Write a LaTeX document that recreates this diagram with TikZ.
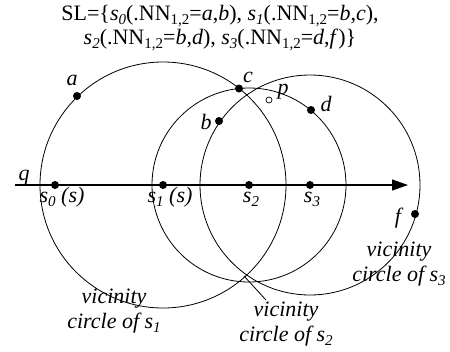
\documentclass[tikz,border=0pt]{standalone}
\usepackage{fontspec}
\setmainfont{Liberation Serif}
\usetikzlibrary{arrows.meta}
\newcommand\lowsb[1]{\raisebox{-0.4ex}{\fontsize{15}{15}\selectfont #1}}
\newcommand\sv[1]{\textit{s}\lowsb{\textit{#1}}}
\begin{document}
\begin{tikzpicture}[x=1pt,y=-1pt,
  lbl/.style={font=\fontsize{22}{25}\selectfont\itshape, inner sep=0pt},
  dotn/.style={circle, fill=black, inner sep=0pt, minimum size=8pt},
  opend/.style={circle, draw=black, line width=0.7pt, inner sep=0pt, minimum size=6pt},
  vcirc/.style={draw=black, line width=0.8pt},
  axis/.style={draw=black, line width=1.1pt, -{Triangle[length=16pt,width=11pt]}},
  leader/.style={draw=black, line width=0.8pt}]
\useasboundingbox (0,0) rectangle (450,351);
% centers
\coordinate (c1) at (163,185);
\coordinate (c2) at (249,185);
\coordinate (c3) at (310,185);
% circles
\draw[vcirc] (c1) circle (123);
\draw[vcirc] (c2) circle (97);
\draw[vcirc] (c3) circle (110);
% axis
\coordinate (qstart) at (15,185);
\coordinate (qend) at (408,185);
\draw[axis] (qstart) -- (qend);
% points
\node[dotn] (s0) at (55,185) {};
\node[dotn] (s1) at (163,185) {};
\node[dotn] (s2) at (249,185) {};
\node[dotn] (s3) at (310,185) {};
\node[dotn] (a) at (77,96) {};
\node[dotn] (b) at (219,121) {};
\node[dotn] (c) at (239,88.5) {};
\node[dotn] (d) at (311,110) {};
\node[dotn] (f) at (415,214) {};
\node[opend] (p) at (269,100) {};
% labels
\node[lbl] (la) at (72,80) {a};
\node[lbl] (lb) at (206,122) {b};
\node[lbl] (lc) at (248,77) {c};
\node[lbl] (lp) at (283,92) {p};
\node[lbl] (ld) at (326,104) {d};
\node[lbl] (lf) at (398,218) {f};
\node[lbl] (lq) at (24,178) {q};
\node[lbl, anchor=base] (ls0) at (62,202) {\sv{0} (s)};
\node[lbl, anchor=base] (ls1) at (170,202) {\sv{1} (s)};
\node[lbl, anchor=base] (ls2) at (251,202) {\sv{2}};
\node[lbl, anchor=base] (ls3) at (312,202) {\sv{3}};
% vicinity labels
\node[lbl, align=center] (v1) at (114,311) {vicinity\\circle of \sv{1}};
\node[lbl, align=center] (v2) at (286,324) {vicinity\\circle of \sv{2}};
\node[lbl, align=center] (v3) at (399,264) {vicinity\\circle of \sv{3}};
\coordinate (lead1) at (244,276);
\coordinate (lead2) at (266,300);
\draw[leader] (lead1) -- (lead2);
% title
\node[font=\fontsize{22}{24}\selectfont, align=center, inner sep=0pt] (title) at (220,28)
 {SL=\{\sv{0}(.NN\lowsb{1,2}=\textit{a},\textit{b}), \sv{1}(.NN\lowsb{1,2}=\textit{b},\textit{c}),\\
  \sv{2}(.NN\lowsb{1,2}=\textit{b},\textit{d}), \sv{3}(.NN\lowsb{1,2}=\textit{d},\textit{f})\}};
\end{tikzpicture}
\end{document}
